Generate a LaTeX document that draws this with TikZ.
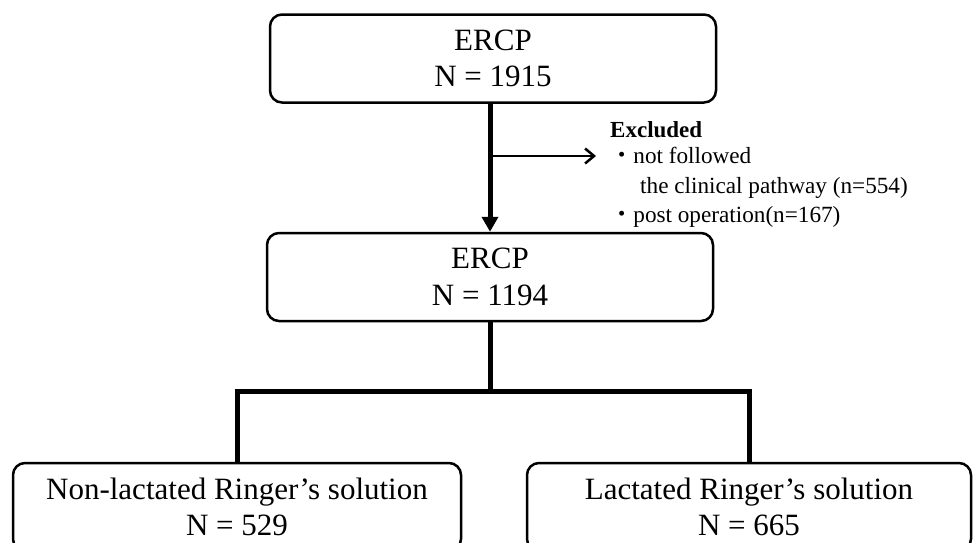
\documentclass[tikz,border=0pt]{standalone}
\usepackage{fontspec}
\setmainfont{Liberation Serif}
\newfontfamily\jpfont{Noto Sans CJK JP}
\usetikzlibrary{arrows.meta}
\begin{document}
\begin{tikzpicture}[x=1pt,y=-1pt,
  box/.style={draw, line width=2.5pt, rounded corners=12pt, minimum width=446pt,
    minimum height=88pt, inner sep=0pt, align=center,
    font=\fontsize{31}{36.5}\selectfont},
  boldline/.style={line width=5pt},
  exline/.style={anchor=base west, inner sep=0pt, font=\fontsize{23.2}{28}\selectfont}
]
\useasboundingbox (0,0) rectangle (973,542);
\node[box] (top) at (493,58.5) {ERCP\\N = 1915};
\node[box] (mid) at (490,277) {ERCP\\N = 1194};
\node[box, minimum width=448pt] (left) at (237,507) {Non-lactated Ringer’s solution\\N = 529};
\node[box, minimum width=444pt] (right) at (749,507) {Lactated Ringer’s solution\\N = 665};

\draw[boldline, -{Triangle[length=15pt,width=16pt]}] (top.south -| mid.north) -- (mid.north);

\coordinate (exs) at (490,156);
\coordinate (exe) at (596,156);
\draw[line width=2.5pt, -{Straight Barb[length=9pt,width=15pt]}] (exs) -- (exe);

\node[exline, font=\fontsize{23}{28}\selectfont\bfseries] (exc) at (610,137) {Excluded};
\node[exline] (ex1) at (610,163) {{\jpfont ・}not followed};
\node[exline] (ex2) at (640,193) {the clinical pathway (n=554)};
\node[exline] (ex3) at (610,222) {{\jpfont ・}post operation(n=167)};

\coordinate (split) at (490,391);
\draw[boldline] (mid.south) -- (split);
\draw[boldline, line join=miter] (left.north) |- (split) -| (right.north);
\end{tikzpicture}
\end{document}
